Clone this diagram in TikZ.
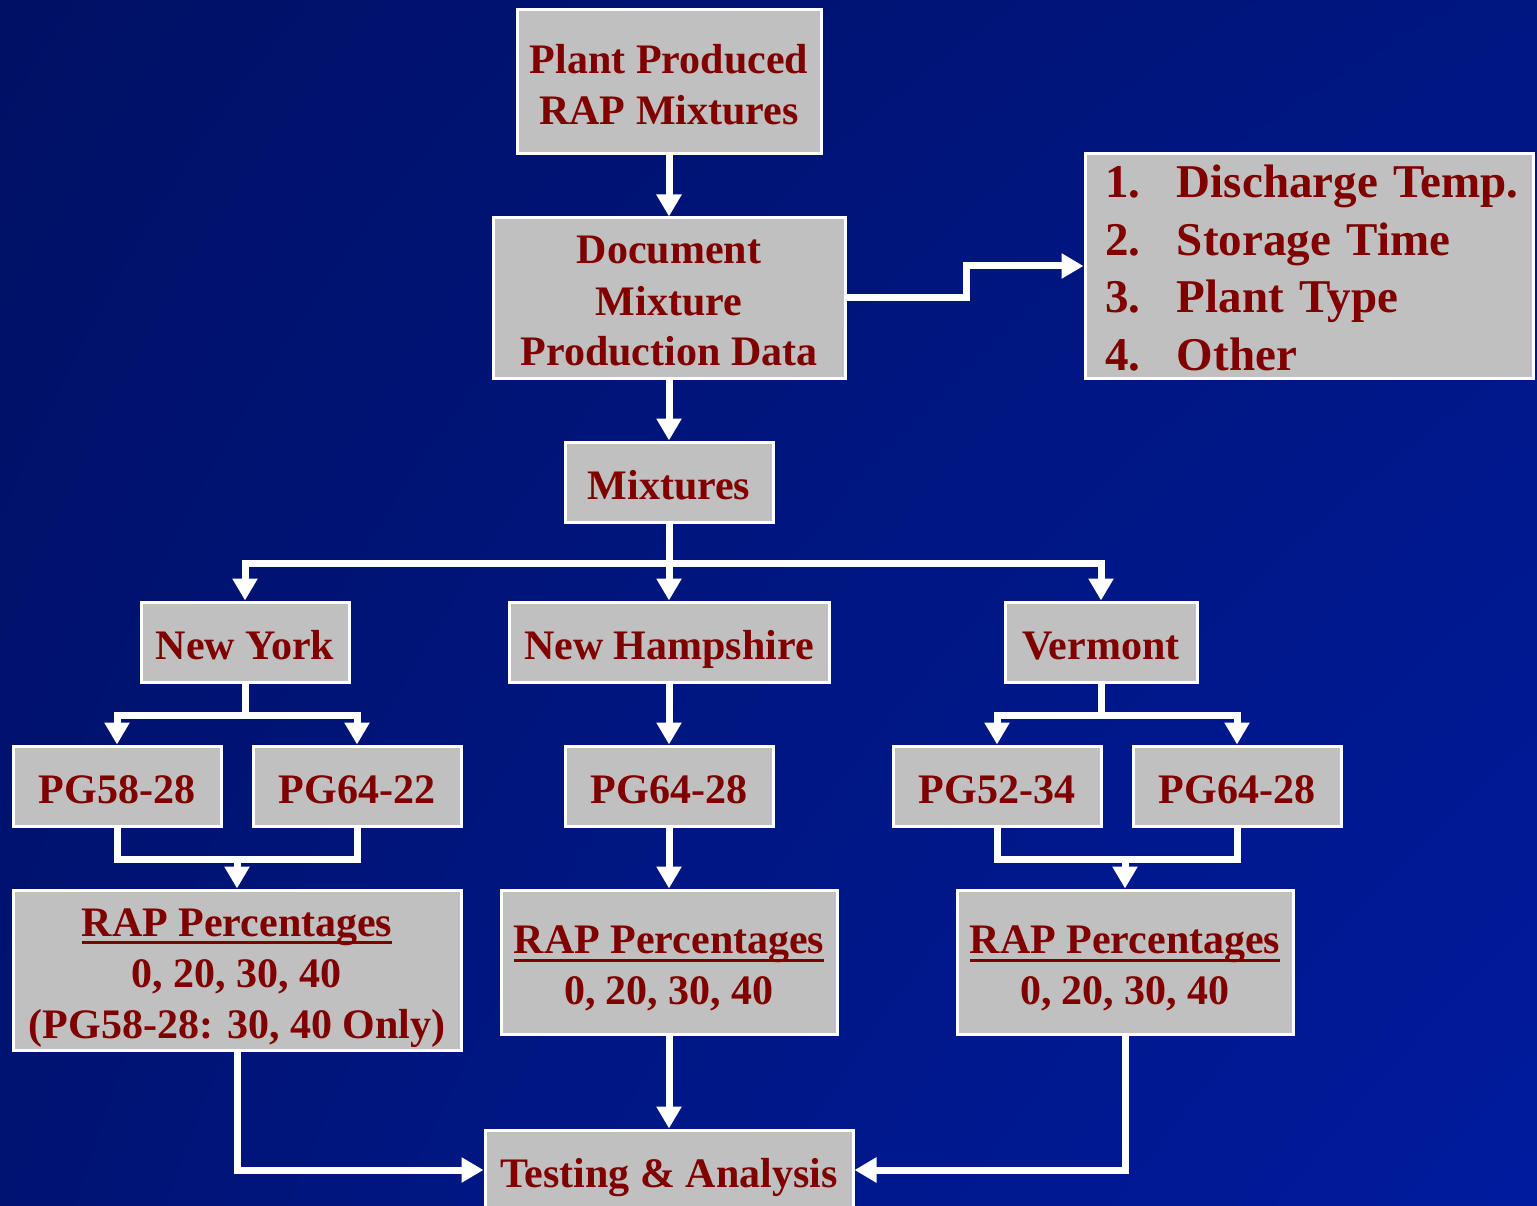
\documentclass[tikz,border=0pt]{standalone}
\usepackage{fontspec}
\setmainfont{Liberation Serif}
\usetikzlibrary{arrows.meta}
\definecolor{boxgray}{HTML}{C0C0C0}
\definecolor{txtred}{HTML}{800000}
\pgfdeclarefunctionalshading{bgsh}{\pgfpoint{-50bp}{-50bp}}{\pgfpoint{50bp}{50bp}}{}{
  50 exch sub 100 div 0.7 exp 0.65 mul 0.35 add
  exch 50 add 100 div 0.6 exp mul
  dup 0.09 mul 0.04 add exch 0.47 mul 0.27 add
  0 3 1 roll
}
\newcommand\myul[1]{\setbox0=\hbox{#1}\rlap{\rule[-8pt]{\wd0}{3pt}}\box0}
\newcommand\fl[1]{\rule{0pt}{34pt}\smash{#1}}
\newcommand\sm[1]{\smash{#1}}
\newcommand\itm[2]{\sm{\makebox[72pt][l]{#1}#2}}
\tikzset{
  box/.style={draw=white, line width=3pt, fill=boxgray, text=txtred,
    font=\fontsize{42}{51}\selectfont\bfseries, align=center, inner sep=0pt},
  conn/.style={draw=white, line width=7pt, line join=miter},
  arr/.style={conn, -{Triangle[width=24pt,length=22pt]}},
}
\begin{document}
\begin{tikzpicture}[x=1pt,y=-1pt]
\useasboundingbox (0,0) rectangle (1537,1206);
\shade[shading=bgsh] (0,0) rectangle (1537,1206);

\node[box, minimum width=304, minimum height=144] (plant) at (669,82) {\fl{Plant Produced}\\\sm{RAP Mixtures}};
\node[box, minimum width=352, minimum height=160] (doc) at (669,298) {\fl{Document}\\\sm{Mixture}\\\sm{Production Data}};
\node[box, minimum width=448, minimum height=224, text width=408, align=left,
  font=\fontsize{47}{57.5}\selectfont\bfseries] (list) at (1309,266)
  {\rule{0pt}{36pt}\itm{1.}{Discharge Temp.}\\\itm{2.}{Storage Time}\\\itm{3.}{Plant Type}\\\itm{4.}{Other}};
\node[box, minimum width=208, minimum height=80] (mix) at (669,482) {\fl{Mixtures}};
\node[box, minimum width=208, minimum height=80] (ny) at (245,642) {\fl{New York}};
\node[box, minimum width=320, minimum height=80] (nh) at (669,642) {\fl{New Hampshire}};
\node[box, minimum width=192, minimum height=80] (vt) at (1101,642) {\fl{Vermont}};
\node[box, minimum width=208, minimum height=80] (pga) at (117,786) {\fl{PG58-28}};
\node[box, minimum width=208, minimum height=80] (pgb) at (357,786) {\fl{PG64-22}};
\node[box, minimum width=208, minimum height=80] (pgc) at (669,786) {\fl{PG64-28}};
\node[box, minimum width=208, minimum height=80] (pgd) at (997,786) {\fl{PG52-34}};
\node[box, minimum width=208, minimum height=80] (pge) at (1237,786) {\fl{PG64-28}};
\node[box, minimum width=448, minimum height=160] (rapny) at (237,970) {\fl{\myul{RAP Percentages}}\\\sm{0, 20, 30, 40}\\\sm{(PG58-28: 30, 40 Only)}};
\node[box, minimum width=336, minimum height=144] (rapnh) at (669,962) {\fl{\myul{RAP Percentages}}\\\sm{0, 20, 30, 40}};
\node[box, minimum width=336, minimum height=144] (rapvt) at (1125,962) {\fl{\myul{RAP Percentages}}\\\sm{0, 20, 30, 40}};
\node[box, minimum width=368, minimum height=80] (test) at (669,1170) {\fl{Testing \& Analysis}};

\coordinate (nyj) at (237,858);
\coordinate (vtj) at (1125,858);

\draw[arr] (plant) -- (doc);
\draw[arr] (doc.east) -- ++(120,0) |- (list.west);
\draw[arr] (doc) -- (mix);
\draw[arr] (mix.south) -- ++(0,40) -| (ny.north);
\draw[arr] (mix.south) -- ++(0,40) -| (vt.north);
\draw[arr] (mix) -- (nh);
\draw[arr] (ny.south) -- ++(0,32) -| (pga.north);
\draw[arr] (ny.south) -- ++(0,32) -| (pgb.north);
\draw[arr] (nh) -- (pgc);
\draw[arr] (vt.south) -- ++(0,32) -| (pgd.north);
\draw[arr] (vt.south) -- ++(0,32) -| (pge.north);
\draw[conn] (pga.south) -- ++(0,32) -| (pgb.south);
\draw[arr] (nyj) -- (rapny.north);
\draw[arr] (pgc) -- (rapnh);
\draw[conn] (pgd.south) -- ++(0,32) -| (pge.south);
\draw[arr] (vtj) -- (rapvt.north);
\draw[arr] (rapny.south) |- (test.west);
\draw[arr] (rapnh) -- (test);
\draw[arr] (rapvt.south) |- (test.east);
\end{tikzpicture}
\end{document}
